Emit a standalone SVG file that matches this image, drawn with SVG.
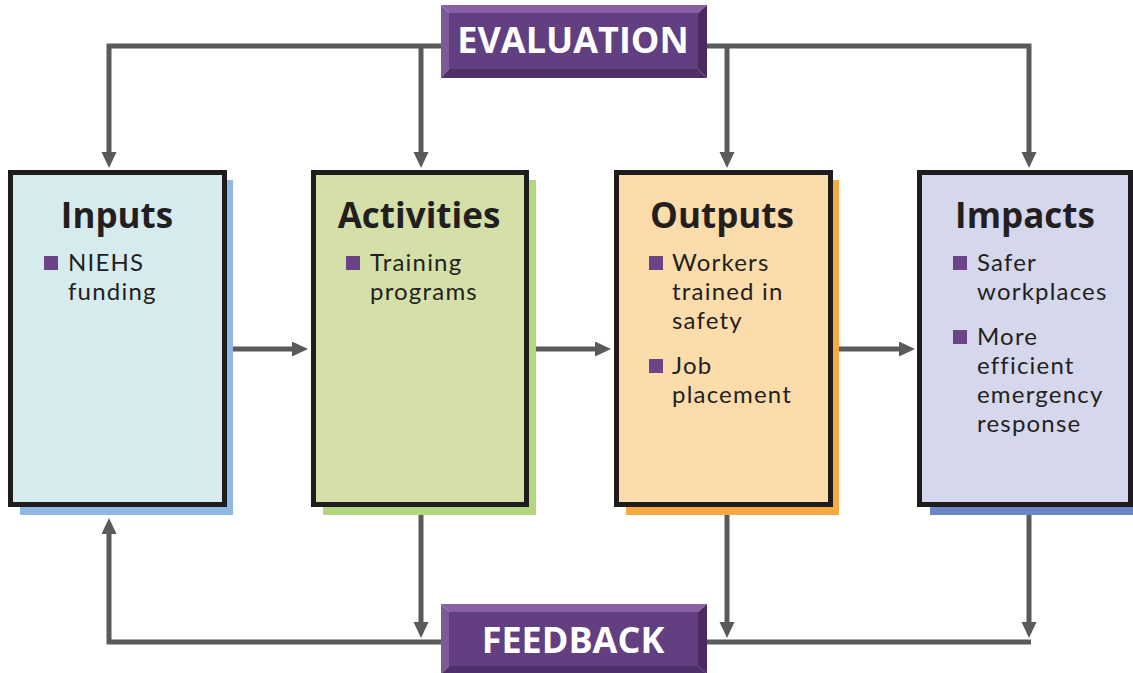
<svg xmlns="http://www.w3.org/2000/svg" width="1133" height="673" viewBox="0 0 1133 673">
<style>
.conn{stroke:#5a5a5c;stroke-width:5;fill:none}
.box{stroke:#1f1c1d;stroke-width:5}
.title{font-family:"Open Sans","Liberation Sans",sans-serif;font-weight:700;font-size:35px;fill:#231f20;text-anchor:middle}
.body{font-family:Lato,"Liberation Sans",sans-serif;font-size:24px;letter-spacing:1.2px;fill:#231f20}
.bul{fill:#6b4488}
.ban{font-family:"Open Sans","Liberation Sans",sans-serif;font-weight:700;font-size:36px;fill:#ffffff;text-anchor:middle}
.face{fill:#623f80}
.bt{fill:#8a60a4}
.bl{fill:#7c5a97}
.br{fill:#4a2a60}
.bb{fill:#50306a}
</style>
<defs>
<marker id="ah" markerUnits="userSpaceOnUse" markerWidth="18" markerHeight="16" refX="6" refY="7.5" orient="auto-start-reverse">
<path d="M0,0 L16,7.5 L0,15 z" fill="#5a5a5c"/>
</marker>
</defs>
<g id="connectors">
<polyline class="conn" points="109,158 109,46 441,46" marker-start="url(#ah)"/>
<line class="conn" x1="421" y1="46" x2="421" y2="158" marker-end="url(#ah)"/>
<polyline class="conn" points="706,46 1029,46 1029,158" marker-end="url(#ah)"/>
<line class="conn" x1="727" y1="46" x2="727" y2="158" marker-end="url(#ah)"/>
<line class="conn" x1="233" y1="349" x2="298" y2="349" marker-end="url(#ah)"/>
<line class="conn" x1="536" y1="349" x2="601" y2="349" marker-end="url(#ah)"/>
<line class="conn" x1="839" y1="349" x2="905" y2="349" marker-end="url(#ah)"/>
<polyline class="conn" points="109,528 109,642 1031,642" marker-start="url(#ah)"/>
<line class="conn" x1="421" y1="515" x2="421" y2="628" marker-end="url(#ah)"/>
<line class="conn" x1="727" y1="515" x2="727" y2="628" marker-end="url(#ah)"/>
<line class="conn" x1="1029" y1="515" x2="1029" y2="628" marker-end="url(#ah)"/>
</g>
<g id="evaluation">
<polygon class="bt" points="441,5 707,5 698,13 449,13"/>
<polygon class="bl" points="441,5 449,13 449,69 441,78"/>
<polygon class="br" points="707,5 707,78 698,69 698,13"/>
<polygon class="bb" points="441,78 449,69 698,69 707,78"/>
<rect class="face" x="449" y="13" width="249" height="56"/>
<text class="ban" x="573" y="53">EVALUATION</text>
</g>
<g id="feedback">
<polygon class="bt" points="441,604 707,604 698,612 449,612"/>
<polygon class="bl" points="441,604 449,612 449,666 441,674"/>
<polygon class="br" points="707,604 707,674 698,666 698,612"/>
<polygon class="bb" points="441,674 449,666 698,666 707,674"/>
<rect class="face" x="449" y="612" width="249" height="54"/>
<text class="ban" x="573" y="653">FEEDBACK</text>
</g>
<g id="inputs">
<rect x="20" y="180" width="213" height="335" fill="#8fb9e2"/>
<rect class="box" x="10.5" y="172.5" width="214" height="332" fill="#d6ebee"/>
<text class="title" x="117" y="228">Inputs</text>
<rect class="bul" x="44" y="256" width="14" height="14"/>
<text class="body" x="68" y="271">NIEHS<tspan x="68" dy="29">funding</tspan></text>
</g>
<g id="activities">
<rect x="323" y="180" width="213" height="335" fill="#b3d67f"/>
<rect class="box" x="313.5" y="172.5" width="213" height="332" fill="#d5e0a8"/>
<text class="title" x="419" y="228">Activities</text>
<rect class="bul" x="346" y="256" width="14" height="14"/>
<text class="body" x="370" y="271">Training<tspan x="370" dy="29">programs</tspan></text>
</g>
<g id="outputs">
<rect x="626" y="180" width="213" height="335" fill="#f8aa42"/>
<rect class="box" x="616.5" y="172.5" width="214" height="332" fill="#fddcab"/>
<text class="title" x="722" y="228">Outputs</text>
<rect class="bul" x="649" y="256" width="14" height="14"/>
<text class="body" x="672" y="271">Workers<tspan x="672" dy="29">trained in</tspan><tspan x="672" dy="29">safety</tspan></text>
<rect class="bul" x="649" y="359" width="14" height="14"/>
<text class="body" x="672" y="374">Job<tspan x="672" dy="29">placement</tspan></text>
</g>
<g id="impacts">
<rect x="930" y="180" width="210" height="335" fill="#6c87c6"/>
<rect class="box" x="919.5" y="172.5" width="211" height="332" fill="#d5d7ec"/>
<text class="title" x="1025" y="228">Impacts</text>
<rect class="bul" x="953" y="256" width="14" height="14"/>
<text class="body" x="977" y="271">Safer<tspan x="977" dy="29">workplaces</tspan></text>
<rect class="bul" x="953" y="330" width="14" height="14"/>
<text class="body" x="977" y="345">More<tspan x="977" dy="29">efficient</tspan><tspan x="977" dy="29">emergency</tspan><tspan x="977" dy="29">response</tspan></text>
</g>
</svg>
